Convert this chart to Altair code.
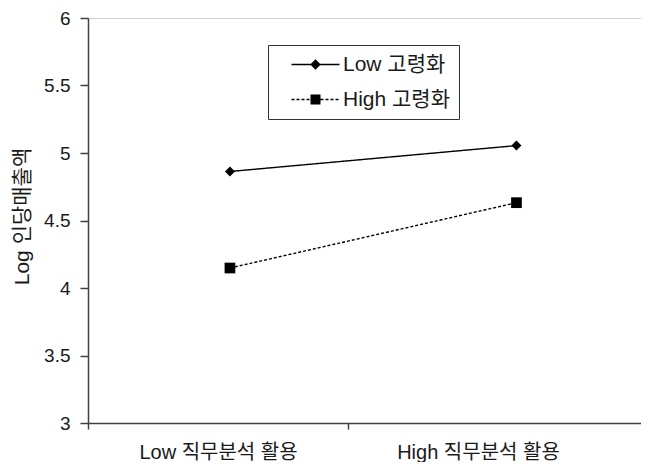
import altair as alt
import pandas as pd

# ---- data ----
categories = ["Low 직무분석 활용", "High 직무분석 활용"]
category_label_pos = [0.5, 1.5]          # category centres (category units)
category_ticks = [0, 1]                  # category boundaries with tick marks
series = ["Low 고령화", "High 고령화"]
point_x = [0.546, 1.648]                 # where the markers sit (category units)
low_values = [4.863, 5.055]
high_values = [4.148, 4.632]
y_ticks = [3, 3.5, 4, 4.5, 5, 5.5, 6]

rows = []
for s, vals in zip(series, [low_values, high_values]):
    for xv, v in zip(point_x, vals):
        rows.append({"series": s, "x": xv, "y": v})
df = pd.DataFrame(rows)

FONT = "Liberation Sans, Arial, Noto Sans CJK KR"
AXIS_COLOR = "#404040"
TEXT_COLOR = "#1a1a1a"

label_expr = " : ".join(
    f"datum.value == {p} ? '{c}'" for p, c in zip(category_label_pos, categories)
) + " : ''"

# legend symbol paths, all filled shapes (unit = sqrt(size)/2 = 5 px)
T = 0.13  # half line thickness


def bar(a, b):
    return f"M{a:.2f},{-T}H{b:.2f}V{T}H{a:.2f}Z"


def dashes(a, b, d=0.6, g=0.4):
    out, x = [], a
    while x < b - 1e-9:
        e = min(x + d, b)
        out.append(bar(x, e))
        x = e + g
    return "".join(out)


path_low = bar(-4.8, 4.8) + "M-1.05,0L0,-1.05L1.05,0L0,1.05Z"
path_high = dashes(-4.8, -1.0) + dashes(1.0, 4.8) + "M-1,-1H1V1H-1Z"

x_scale = alt.Scale(domain=[0, 2.127], nice=False, zero=False)
y_scale = alt.Scale(domain=[3, 6], nice=False, zero=False)

base = alt.Chart(df)

lines = base.mark_line(color="black", strokeWidth=1.4).encode(
    x=alt.X("x:Q", scale=x_scale, axis=alt.Axis(
        values=category_ticks, labels=False, ticks=True, tickSize=6,
        tickColor=AXIS_COLOR, tickWidth=1.5, domainColor=AXIS_COLOR,
        domainWidth=1.5, grid=False, title=None)),
    y=alt.Y("y:Q", scale=y_scale, axis=alt.Axis(
        values=y_ticks, format="~g", tickSize=8, tickColor=AXIS_COLOR,
        tickWidth=1.5, domainColor=AXIS_COLOR, domainWidth=1.5,
        labelFont=FONT, labelFontSize=19, labelColor=TEXT_COLOR,
        labelPadding=10,
        grid=True, gridWidth=1,
        gridColor={"condition": {"test": "datum.value === 6", "value": "#cfcfcf"},
                   "value": "transparent"},
        title="Log 인당매출액", titleFont=FONT, titleFontSize=21,
        titleFontWeight="normal", titleColor=TEXT_COLOR,
        titleX=-66, titleY=198, titleBaseline="middle", titleAlign="center")),
    detail="series:N",
    strokeDash=alt.StrokeDash("series:N", scale=alt.Scale(domain=series, range=[[1, 0], [3, 2]]), legend=None),
)

points = base.mark_point(filled=True, color="black", opacity=1).encode(
    x=alt.X("x:Q", scale=x_scale, axis=alt.Axis(
        values=category_label_pos, labelExpr=label_expr, ticks=False, tickSize=0,
        domain=False, grid=False, labelFont=FONT, labelFontSize=20,
        labelColor=TEXT_COLOR, labelPadding=19, title=None, orient="bottom")),
    y=alt.Y("y:Q", scale=y_scale, axis=None),
    shape=alt.Shape("series:N", scale=alt.Scale(domain=series, range=["diamond", "square"]), legend=None),
    size=alt.Size("series:N", scale=alt.Scale(domain=series, range=[100, 115]), legend=None),
)

legend_layer = base.transform_filter("false").mark_point(
    filled=True, color="black", opacity=1
).encode(
    x=alt.X("x:Q", scale=x_scale, axis=None),
    y=alt.Y("y:Q", scale=y_scale, axis=None),
    shape=alt.Shape("series:N", scale=alt.Scale(domain=series, range=[path_low, path_high]),
                    legend=alt.Legend(
                        orient="none", legendX=180, legendY=27, title=None,
                        strokeColor="#333333", fillColor="white", padding=9,
                        rowPadding=13, symbolOffset=28, labelOffset=17,
                        symbolSize=100, symbolStrokeWidth=0,
                        symbolFillColor="black", symbolOpacity=1,
                        labelFont=FONT, labelFontSize=21, labelColor=TEXT_COLOR,
                        labelExpr="datum.label + '\u00a0\u00a0'")),
)

chart = alt.layer(lines, points, legend_layer).resolve_scale(
    shape="independent", size="independent", strokeDash="independent"
).resolve_axis(x="independent", y="independent").properties(
    width=553, height=405,
    autosize=alt.AutoSizeParams(type="none"),
    padding={"left": 80, "top": 10, "right": 0, "bottom": 39},
    background="white",
).configure_view(stroke=None)

chart.save("out.html", embed_options={"renderer": "svg", "actions": False})
